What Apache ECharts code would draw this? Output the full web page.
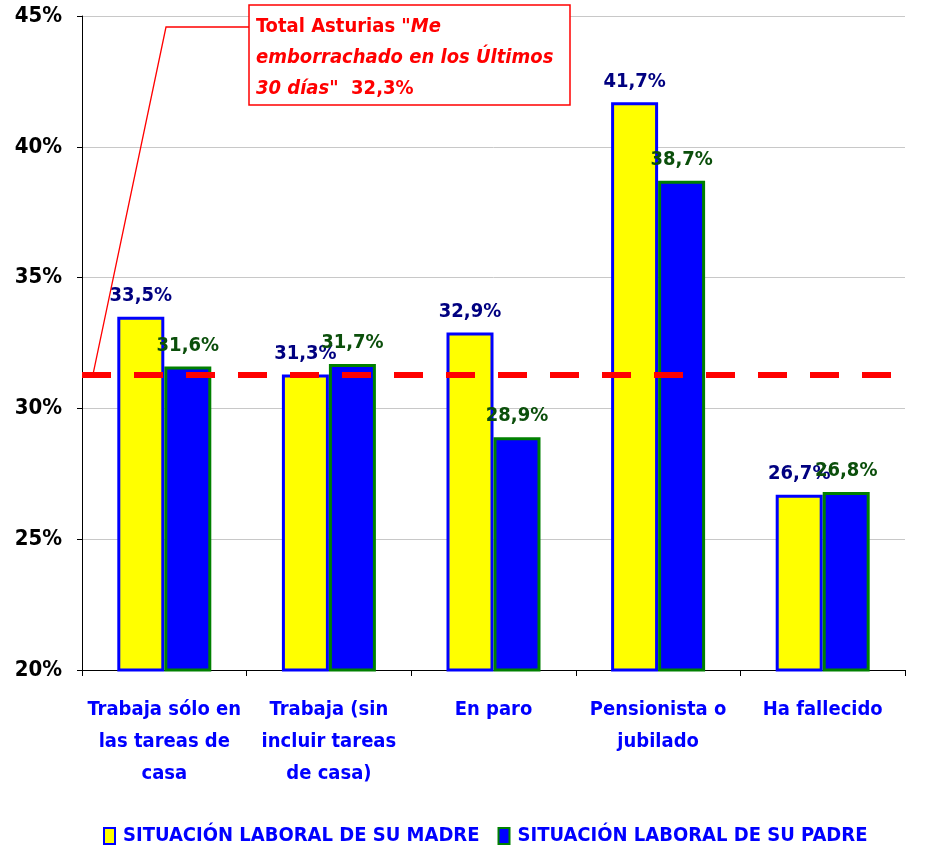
<!DOCTYPE html>
<html>
<head>
<meta charset="utf-8">
<script src="https://cdn.jsdelivr.net/npm/echarts@6/dist/echarts.min.js"></script>
<style>
  html, body { margin: 0; padding: 0; background: #fff; }
  #chart { width: 934px; height: 849px; }
</style>
</head>
<body>
<div id="chart"></div>
<script>
const categories = [
  'Trabaja sólo en\nlas tareas de\ncasa',
  'Trabaja (sin\nincluir tareas\nde casa)',
  'En paro',
  'Pensionista o\njubilado',
  'Ha fallecido'
];
const madre = [33.5, 31.3, 32.9, 41.7, 26.7];
const padre = [31.6, 31.7, 28.9, 38.7, 26.8];
const totalAsturias = 31.3;
const seriesNames = ['SITUACIÓN LABORAL DE SU MADRE', 'SITUACIÓN LABORAL DE SU PADRE'];

const FONT = '"Liberation Sans Narrow", "DejaVu Sans Condensed", sans-serif';
const fmt = v => v.toFixed(1).replace('.', ',') + '%';

const chart = echarts.init(document.getElementById('chart'));

const labelStyle = color => ({
  show: true,
  position: 'top',
  distance: 11,
  color: color,
  fontFamily: FONT,
  fontWeight: 'bold',
  fontSize: 20,
  formatter: p => fmt(p.value)
});

chart.setOption({
  animation: false,
  textStyle: { fontFamily: FONT },
  grid: { left: 82, right: 29, top: 16, bottom: 179 },
  legend: {
    top: 821,
    left: 98,
    icon: 'rect',
    itemWidth: 11,
    itemHeight: 16,
    itemGap: 18,
    textStyle: { color: '#0000ff', fontWeight: 'bold', fontSize: 20, fontFamily: FONT, padding: [0, 0, 0, 3] },
    data: seriesNames
  },
  xAxis: {
    type: 'category',
    data: categories,
    axisLine: { lineStyle: { color: '#000', width: 1 } },
    axisTick: { show: true, length: 6, lineStyle: { color: '#000' } },
    axisLabel: {
      color: '#0000ff',
      fontWeight: 'bold',
      fontSize: 20,
      lineHeight: 32,
      margin: 24,
      interval: 0,
      fontFamily: FONT
    }
  },
  yAxis: {
    type: 'value',
    min: 20,
    max: 45,
    interval: 5,
    axisLine: { show: true, lineStyle: { color: '#000', width: 1 } },
    axisTick: { show: true, length: 5, lineStyle: { color: '#000' } },
    axisLabel: {
      color: '#000',
      fontWeight: 'bold',
      fontSize: 22,
      margin: 20,
      fontFamily: FONT,
      formatter: v => v + '%'
    },
    splitLine: { lineStyle: { color: '#c8c8c8', width: 1 } }
  },
  series: [
    {
      name: seriesNames[0],
      type: 'bar',
      data: madre,
      barWidth: 47,
      barGap: '0%',
      itemStyle: { color: '#ffff00', borderColor: '#0000ff', borderWidth: 3 },
      label: labelStyle('#000080')
    },
    {
      name: seriesNames[1],
      type: 'bar',
      data: padre,
      barWidth: 47,
      itemStyle: { color: '#0000ff', borderColor: '#008000', borderWidth: 3 },
      label: labelStyle('#0b4f0b')
    },
    {
      // línea de Total Asturias por encima de las barras
      name: 'total',
      type: 'line',
      data: [],
      z: 20,
      markLine: {
        silent: true,
        symbol: 'none',
        label: { show: false },
        lineStyle: { color: '#ff0000', width: 6, type: [29, 23] },
        data: [{ yAxis: totalAsturias }]
      }
    }
  ]
});

// caja de anotación con línea guía hasta la línea de Total Asturias
const lineY = chart.convertToPixel({ yAxisIndex: 0 }, totalAsturias);
chart.setOption({
  graphic: [
    {
      type: 'polyline',
      shape: { points: [[249, 27], [166, 27], [93, lineY]] },
      style: { stroke: '#ff0000', lineWidth: 1.3, fill: null },
      z: 30
    },
    {
      type: 'rect',
      shape: { x: 249, y: 5, width: 321, height: 100 },
      style: { fill: '#fff', stroke: '#ff0000', lineWidth: 1.5 },
      z: 30
    },
    {
      type: 'text',
      left: 256,
      top: 17,
      z: 31,
      style: {
        text: '{n|Total Asturias }{i|"Me}\n{i|emborrachado en los Últimos}\n{i|30 días"}{n|  32,3%}',
        rich: {
          n: { fill: '#ff0000', fontWeight: 'bold', fontSize: 20, fontFamily: FONT, lineHeight: 31 },
          i: { fill: '#ff0000', fontWeight: 'bold', fontStyle: 'italic', fontSize: 20, fontFamily: FONT, lineHeight: 31 }
        }
      }
    }
  ]
});
</script>
</body>
</html>
